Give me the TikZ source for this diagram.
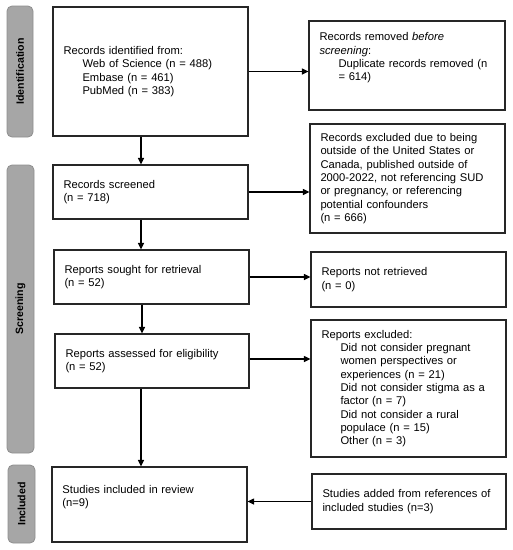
\documentclass[tikz,border=0pt]{standalone}
\usepackage{fontspec}
\setmainfont{Liberation Sans}
\usetikzlibrary{arrows.meta,calc}
\definecolor{stagefill}{HTML}{A6A6A6}
\definecolor{stageline}{HTML}{8E8E8E}
\definecolor{boxline}{HTML}{262626}
\begin{document}
\begin{tikzpicture}[x=1pt,y=-1pt,
  box/.style={draw=boxline, line width=1.2pt, rectangle, inner xsep=10.5pt, inner ysep=2pt,
    align=left, font=\fontsize{11.2}{13.3}\selectfont},
  stage/.style={draw=stageline, fill=stagefill, line width=0.8pt, rounded corners=5pt,
    rotate=90, inner sep=0pt, font=\fontsize{10.6}{12}\selectfont\bfseries},
  arr/.style={draw=black, line width=1.2pt, -{Triangle[length=6.5pt,width=6pt]}}]
\useasboundingbox (0,0) rectangle (513,550);
% stage labels
\node[stage, minimum width=131pt, minimum height=26pt] (sid) at (20,71.5) {Identification};
\node[stage, minimum width=288pt, minimum height=27pt] (sscr) at (20.5,309) {Screening};
\node[stage, minimum width=78pt, minimum height=27pt] (sinc) at (21.5,504) {Included};
% boxes
\node[box, minimum width=195pt, minimum height=129pt, text width=174pt] (id1) at (150.5,71.5)
  {Records identified from:\\\hspace*{19pt}Web of Science (n = 488)\\\hspace*{19pt}Embase (n = 461)\\\hspace*{19pt}PubMed (n = 383)};
\node[box, minimum width=196pt, minimum height=89pt, text width=175pt] (rem) at (407,65.5)
  {Records removed \textit{before}\\\textit{screening}:\\\hspace*{19pt}Duplicate records removed (n\\\hspace*{19pt}= 614)\\\strut};
\node[box, minimum width=195pt, minimum height=54pt, text width=174pt] (scr) at (150.5,192)
  {Records screened\\(n = 718)};
\node[box, minimum width=195pt, minimum height=109pt, text width=174pt] (excl) at (407.5,178.5)
  {Records excluded due to being\\outside of the United States or\\Canada, published outside of\\2000-2022, not referencing SUD\\or pregnancy, or referencing\\potential confounders\\(n = 666)};
\node[box, minimum width=195pt, minimum height=54pt, text width=174pt] (sought) at (151.5,277)
  {Reports sought for retrieval\\(n = 52)};
\node[box, minimum width=195pt, minimum height=55pt, text width=174pt] (notret) at (408.5,279.5)
  {Reports not retrieved\\(n = 0)};
\node[box, minimum width=194pt, minimum height=54pt, text width=173pt] (assess) at (152,361)
  {Reports assessed for eligibility\\(n = 52)};
\node[box, minimum width=195pt, minimum height=137pt, text width=174pt] (repexcl) at (408.5,388.5)
  {Reports excluded:\\\hspace*{19pt}Did not consider pregnant\\\hspace*{19pt}women perspectives or\\\hspace*{19pt}experiences (n = 21)\\\hspace*{19pt}Did not consider stigma as a\\\hspace*{19pt}factor (n = 7)\\\hspace*{19pt}Did not consider a rural\\\hspace*{19pt}populace (n = 15)\\\hspace*{19pt}Other (n = 3)};
\node[box, minimum width=195pt, minimum height=75pt, text width=174pt] (incl) at (149.5,504.5)
  {Studies included in review\\(n=9)\\\strut};
\node[box, minimum width=194pt, minimum height=55pt, text width=173pt] (added) at (409,501.5)
  {Studies added from references of\\included studies (n=3)};
% connectors
\coordinate (c1) at ([xshift=-9.5pt]id1.south);
\draw[arr] (c1) -- (c1 |- scr.north);
\coordinate (c2) at ([xshift=-9.5pt]scr.south);
\draw[arr] (c2) -- (c2 |- sought.north);
\coordinate (c3) at ([xshift=-9.5pt]sought.south);
\draw[arr] (c3) -- (c3 |- assess.north);
\coordinate (c4) at ([xshift=-11pt]assess.south);
\draw[arr] (c4) -- (c4 |- incl.north);
\draw[arr] (id1.east) -- (id1.east -| rem.west);
\draw[arr] (scr.east) -- (scr.east -| excl.west);
\draw[arr] (sought.east) -- (sought.east -| notret.west);
\draw[arr] ([yshift=2pt]assess.east) -- ([yshift=2pt]assess.east -| repexcl.west);
\draw[arr] (added.west) -- (added.west -| incl.east);
\end{tikzpicture}
\end{document}
